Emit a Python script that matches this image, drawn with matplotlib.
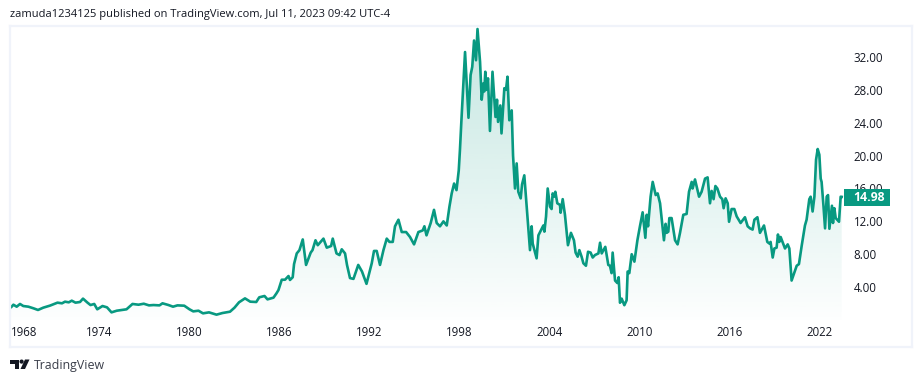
import numpy as np
import matplotlib.pyplot as plt
from matplotlib.patches import Rectangle, Polygon, Circle, PathPatch

plt.rcParams["font.family"] = ["Open Sans", "DejaVu Sans"]

anos = [
    1968.03, 1968.1, 1968.26, 1968.48, 1968.7, 1968.92, 1969.26, 1969.6, 1969.9, 1970.25, 1970.7,
    1971.2, 1971.5, 1971.7, 1971.95, 1972.15, 1972.4, 1972.7, 1972.9, 1973.2, 1973.4, 1973.65,
    1973.85, 1974.2, 1974.5, 1974.8, 1975.15, 1975.5, 1975.8, 1976.2, 1976.6, 1976.95, 1977.3,
    1977.6, 1978.0, 1978.2, 1978.6, 1978.9, 1979.2, 1979.65, 1980.0, 1980.25, 1980.6, 1980.9,
    1981.3, 1981.8, 1982.2, 1982.7, 1983.0, 1983.3, 1983.7, 1984.05, 1984.45, 1984.65, 1985.0,
    1985.2, 1985.6, 1985.8, 1985.93, 1986.15, 1986.37, 1986.6, 1986.7, 1986.88, 1986.97, 1987.15,
    1987.33, 1987.55, 1987.77, 1988.08, 1988.2, 1988.4, 1988.55, 1988.93, 1989.15, 1989.44,
    1989.55, 1989.8, 1990.0, 1990.15, 1990.37, 1990.5, 1990.7, 1990.93, 1991.1, 1991.25, 1991.5,
    1991.8, 1992.15, 1992.3, 1992.48, 1992.7, 1992.93, 1993.15, 1993.33, 1993.55, 1993.7, 1993.93,
    1994.15, 1994.44, 1994.7, 1994.97, 1995.26, 1995.55, 1995.66, 1995.8, 1996.08, 1996.3, 1996.48,
    1996.7, 1996.93, 1997.15, 1997.33, 1997.48, 1997.64, 1997.8, 1997.95, 1998.03, 1998.12, 1998.37,
    1998.6, 1998.74, 1998.85, 1998.97, 1999.1, 1999.2, 1999.37, 1999.48, 1999.6, 1999.65, 1999.72,
    1999.8, 1999.9, 2000.03, 2000.2, 2000.4, 2000.5, 2000.57, 2000.72, 2000.8, 2000.99, 2001.1,
    2001.2, 2001.32, 2001.48, 2001.57, 2001.7, 2001.81, 2001.92, 2002.08, 2002.17, 2002.32, 2002.48,
    2002.7, 2002.81, 2002.88, 2003.14, 2003.26, 2003.48, 2003.59, 2003.66, 2003.77, 2003.88, 2004.03,
    2004.14, 2004.21, 2004.32, 2004.39, 2004.52, 2004.7, 2004.74, 2004.88, 2005.03, 2005.23, 2005.43,
    2005.63, 2005.74, 2005.88, 2005.99, 2006.14, 2006.26, 2006.43, 2006.57, 2006.74, 2006.88, 2007.03,
    2007.26, 2007.37, 2007.48, 2007.72, 2007.92, 2008.03, 2008.14, 2008.21, 2008.37, 2008.52, 2008.61,
    2008.7, 2008.81, 2008.99, 2009.14, 2009.21, 2009.32, 2009.48, 2009.66, 2009.86, 2010.03, 2010.21,
    2010.39, 2010.48, 2010.57, 2010.74, 2010.88, 2011.08, 2011.21, 2011.37, 2011.63, 2011.74, 2011.81,
    2011.92, 2011.99, 2012.14, 2012.37, 2012.54, 2012.7, 2012.92, 2013.14, 2013.3, 2013.48, 2013.54,
    2013.7, 2013.97, 2014.14, 2014.37, 2014.54, 2014.7, 2014.81, 2014.94, 2015.06, 2015.19, 2015.37,
    2015.52, 2015.61, 2015.74, 2015.88, 2015.97, 2016.14, 2016.32, 2016.48, 2016.74, 2017.03, 2017.21,
    2017.37, 2017.54, 2017.66, 2017.86, 2018.03, 2018.3, 2018.52, 2018.66, 2018.74, 2018.88, 2018.99,
    2019.14, 2019.23, 2019.32, 2019.41, 2019.7, 2019.88, 2019.99, 2020.14, 2020.48, 2020.63, 2020.81,
    2021.03, 2021.14, 2021.32, 2021.41, 2021.54, 2021.66, 2021.77, 2021.88, 2021.99, 2022.08, 2022.14,
    2022.26, 2022.37, 2022.48, 2022.57, 2022.66, 2022.83, 2022.9, 2022.99, 2023.08, 2023.3, 2023.41,
    2023.48,
]

valores = [
    1.6, 1.54, 1.86, 1.62, 1.95, 1.7, 1.62, 1.42, 1.22, 1.5, 1.75,
    2.11, 2.03, 2.23, 2.15, 2.35, 2.11, 2.19, 2.6, 2.11, 1.82, 1.95,
    1.3, 1.7, 1.54, 0.93, 1.13, 1.22, 1.3, 1.95, 1.86, 1.98, 1.78,
    1.82, 1.78, 2.03, 1.82, 1.62, 1.78, 1.74, 1.3, 1.05, 1.13, 0.81,
    0.93, 0.65, 0.85, 1.01, 1.5, 2.15, 2.63, 2.23, 2.19, 2.76, 2.92,
    2.51, 2.72, 3.25, 3.64, 4.9, 4.9, 5.35, 4.87, 5.2, 6.8, 8.1,
    8.5, 9.8, 6.7, 8.2, 8.5, 9.7, 9.1, 9.9, 8.8, 9.0,
    9.9, 8.1, 7.9, 8.6, 8.1, 6.7, 5.1, 5.0, 5.9, 6.7, 5.9,
    4.4, 6.9, 8.4, 8.4, 6.7, 8.5, 9.9, 9.5, 9.5, 11.4, 12.2,
    10.7, 10.7, 10.1, 9.2, 10.7, 10.9, 11.4, 10.3, 11.8, 13.4, 11.8,
    11.4, 12.0, 11.5, 13.8, 15.4, 16.6, 15.8, 18.2, 20.7, 24.0, 32.6,
    24.6, 29.8, 30.8, 34.0, 31.6, 35.4, 31.4, 26.8, 28.8, 27.8, 30.2,
    28.0, 29.4, 23.0, 30.2, 24.7, 26.8, 24.1, 26.1, 22.7, 28.2, 28.0,
    29.6, 24.3, 25.5, 20.0, 16.0, 19.05, 15.6, 14.8, 16.5, 17.6, 13.8,
    8.5, 11.4, 9.3, 7.5, 10.3, 11.1, 11.5, 10.75, 12.6, 16.0, 13.8,
    13.5, 15.4, 15.0, 15.6, 14.2, 14.0, 13.05, 14.7, 12.8, 9.1, 10.6,
    9.7, 8.2, 7.7, 8.5, 7.7, 6.9, 6.6, 8.3, 8.2, 7.6, 7.9,
    8.1, 9.4, 8.1, 8.9, 6.7, 6.6, 5.7, 8.2, 4.8, 4.5, 5.2,
    2.1, 2.6, 1.8, 2.4, 5.9, 5.7, 8.0, 7.1, 9.7, 11.4, 13.1,
    10.0, 12.8, 11.4, 15.0, 16.8, 15.2, 15.4, 14.2, 9.7, 11.7, 10.6,
    10.75, 12.4, 12.4, 9.7, 9.2, 10.6, 12.8, 12.9, 15.6, 16.8, 16.0,
    17.1, 15.0, 15.6, 17.2, 17.35, 14.2, 15.7, 14.7, 16.3, 16.0, 15.0,
    14.7, 13.6, 14.8, 14.2, 11.95, 13.5, 13.5, 12.6, 11.8, 12.5, 11.4,
    11.15, 11.0, 12.2, 12.5, 10.6, 11.5, 9.5, 9.3, 9.5, 7.6, 8.7,
    8.8, 10.4, 9.5, 10.1, 8.7, 9.2, 8.7, 4.8, 6.6, 6.8, 9.0,
    11.5, 12.2, 14.7, 15.0, 13.2, 15.0, 19.5, 20.8, 20.1, 17.2, 16.8,
    14.0, 11.15, 15.0, 15.2, 11.1, 13.9, 11.8, 13.6, 12.4, 11.95, 15.0,
    14.98,
]

ticks_y = [4, 8, 12, 16, 20, 24, 28, 32]
# o rotulo 1968 fica deslocado pra dentro da area, como no tradingview
ticks_x = [1969, 1974, 1980, 1986, 1992, 1998, 2004, 2010, 2016, 2022]
rotulos_x = ["1968", "1974", "1980", "1986", "1992", "1998", "2004", "2010", "2016", "2022"]

cabecalho = "zamuda1234125 published on TradingView.com, Jul 11, 2023 09:42 UTC-4"
marca = "TradingView"

verde = "#089981"
borda = "#F0F3FA"
texto = "#131722"

L, T, R, B = 10, 26, 912, 347  # area do grafico em pixels
W, H = 922, 382

fig = plt.figure(figsize=(W / 100, H / 100), dpi=100, facecolor="white")
ax = fig.add_axes([L / W, 1 - B / H, (R - L) / W, (B - T) / H])

# degrade recortado pela area abaixo da linha
grad = np.zeros((256, 1, 4))
grad[..., :3] = [8 / 255, 153 / 255, 129 / 255]
grad[:, 0, 3] = np.linspace(0.24, 0.01, 256)
img = ax.imshow(grad, aspect="auto", extent=[anos[0], anos[-1], 0, max(valores)], zorder=1)
area = ax.fill_between(anos, valores, 0, color="none")
caminho = area.get_paths()[0]
img.set_clip_path(PathPatch(caminho, transform=ax.transData))

ax.plot(anos, valores, color=verde, linewidth=1.9, solid_joinstyle="round", zorder=2)

ax.set_xlim(1968 + (L - 9.5) / 15, 1968 + (R - 9.5) / 15)
ax.set_ylim((320 - B) / 8.22, (320 - T) / 8.22)

ax.set_xticks(ticks_x)
ax.set_xticklabels(rotulos_x)
ax.set_yticks(ticks_y)
ax.set_yticklabels([f"{v:.2f}" for v in ticks_y])
ax.yaxis.tick_right()
ax.tick_params(axis="x", length=0, pad=-15, labelsize=8.3, labelcolor=texto)
ax.tick_params(axis="y", length=0, pad=-42, labelsize=8.3, labelcolor=texto)
for s in ax.spines.values():
    s.set_color(borda)
    s.set_linewidth(1.6)

# camada em pixels pro selo de preco, cabecalho e logo
ov = fig.add_axes([0, 0, 1, 1], facecolor="none")
ov.set_xlim(0, W)
ov.set_ylim(H, 0)
ov.axis("off")

ov.add_patch(Rectangle((844, 189), 46, 17, color=verde, linewidth=0))
ov.text(869, 197.5, f"{valores[-1]:.2f}", color="white", fontsize=8.8, fontweight="bold", ha="center", va="center")

ov.text(10, 15, cabecalho, color=texto, fontsize=8.05, ha="left", va="center")
ov.text(33.5, 365, marca, color="#3a3e4a", fontsize=8.9, ha="left", va="center")

# logo
ov.add_patch(Polygon([(10, 359.5), (19, 359.5), (19, 369), (14.5, 369), (14.5, 364), (10, 364)], color=texto, linewidth=0))
ov.add_patch(Circle((21.6, 361.6), 2.1, color=texto, linewidth=0))
ov.add_patch(Polygon([(25, 359.5), (29.5, 359.5), (25, 369), (20.5, 369)], color=texto, linewidth=0))

fig.savefig("out.png", dpi=100)
